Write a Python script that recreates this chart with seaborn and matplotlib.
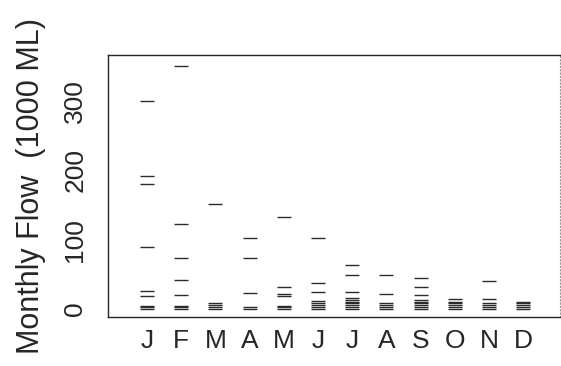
import matplotlib
matplotlib.use("Agg")
import matplotlib.pyplot as plt
import seaborn as sns
import pandas as pd

# Monthly flows (1000 ML), one value per year, for each calendar month
months = ["J", "F", "M", "A", "M", "J", "J", "A", "S", "O", "N", "D"]
jan = [300, 192, 181, 89, 26, 19, 4.5, 2.5, 0.5]
feb = [351, 122, 73, 42, 20, 4.5, 2.5, 0.5]
mar = [151, 8, 5.5, 3, 0.5]
apr = [102, 73, 23.5, 2.5, 0.5]
may = [132, 31, 22, 19, 4.5, 2.5, 0.5]
jun = [103, 37, 24, 12, 8, 5.5, 2.5, 0.5]
jul = [63, 49, 24, 15.5, 13, 10.5, 8, 5.5, 3, 0.5]
aug = [49, 21, 8, 5.5, 3, 0.5]
sep = [44, 32, 20, 13, 10.5, 8, 5.5, 3, 0.5]
oct_ = [15, 10.5, 8, 5.5, 3, 0.5]
nov = [40, 14, 8, 5.5, 3, 0.5]
dec = [10.5, 8, 5.5, 3, 0.5]
y_ticks = [0, 100, 200, 300]

flows = [jan, feb, mar, apr, may, jun, jul, aug, sep, oct_, nov, dec]
rows = []
for i, vals in enumerate(flows):
    for v in vals:
        rows.append({"month": i, "flow": v})
df = pd.DataFrame(rows)

sns.set_theme(style="white")
plt.rcParams["font.family"] = ["Liberation Sans", "DejaVu Sans"]

fig = plt.figure(figsize=(5.61, 3.66), dpi=100)
ax = fig.add_axes([0.1925, 0.134, 0.806, 0.716])

sns.stripplot(data=df, x="month", y="flow", order=list(range(12)),
              native_scale=True, jitter=False, marker="_", s=9.5,
              linewidth=1.0, color="#2b2b2b", ax=ax)

ax.set_xlim(-1.14, 12.08)
ax.set_ylim(-11.5, 366.5)
ax.set_xticks(range(12))
ax.set_xticklabels(months, fontsize=19, color="#262626")
ax.set_yticks(y_ticks)
ax.set_yticklabels([str(t) for t in y_ticks], fontsize=19, color="#262626",
                   rotation=90, va="center")
ax.tick_params(axis="x", length=0, pad=9)
ax.tick_params(axis="y", length=4, width=0.8, direction="out",
               color="#333333", pad=11)
ax.set_xlabel("")
ax.set_ylabel("Monthly Flow  (1000 ML)", fontsize=22, color="#262626",
              labelpad=12)

for side in ["left", "top", "bottom"]:
    ax.spines[side].set_visible(True)
    ax.spines[side].set_color("#262626")
    ax.spines[side].set_linewidth(1.0)
ax.spines["right"].set_visible(True)
ax.spines["right"].set_color("#999999")
ax.spines["right"].set_linestyle((0, (1, 2)))
ax.spines["right"].set_linewidth(0.8)

fig.savefig("out.png", dpi=100)
